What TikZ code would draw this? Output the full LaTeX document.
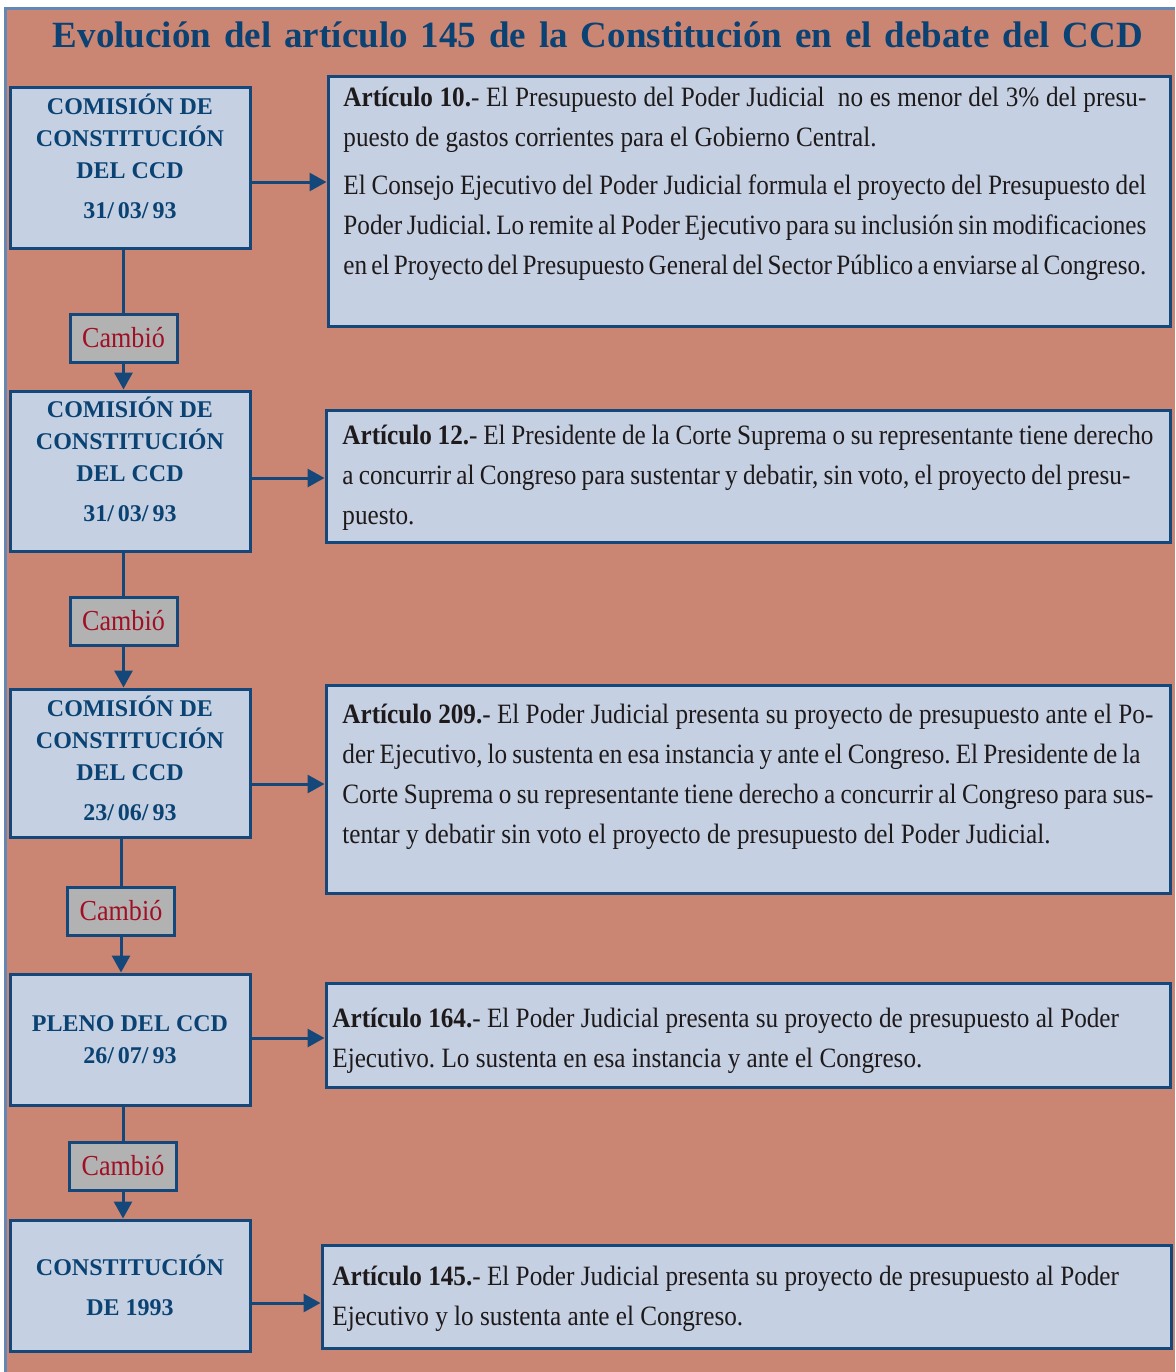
\documentclass[tikz,border=0pt]{standalone}
\usepackage{fontspec}
\setmainfont{Liberation Serif}
\newfontfamily\bodyfam{Liberation Serif}[FakeStretch=0.9]
\usepackage{tikz}
\usetikzlibrary{arrows.meta}
\definecolor{bgsalmon}{RGB}{203,133,115}
\definecolor{framesteel}{RGB}{100,135,180}
\definecolor{boxfill}{RGB}{197,208,226}
\definecolor{boxline}{RGB}{20,72,122}
\definecolor{cambiogray}{RGB}{178,178,178}
\definecolor{cambiored}{RGB}{160,15,35}
\definecolor{titleblue}{RGB}{10,67,115}
\definecolor{textdark}{RGB}{30,26,27}
\newcommand{\linew}{1.5pt}
\newcommand{\jl}[2]{\makebox[#1][s]{#2}}
\newcommand{\dep}[1]{\rule[-#1]{0pt}{#1}}
\frenchspacing

\begin{document}
\begin{tikzpicture}[x=0.5pt, y=-0.5pt,
  stage/.style={draw=boxline, fill=boxfill, line width=\linew, inner sep=0pt,
    minimum width=120pt, align=center, text=titleblue,
    font=\fontsize{12}{16}\selectfont\bfseries},
  change/.style={draw=boxline, fill=cambiogray, line width=\linew, inner sep=0pt,
    minimum width=53.5pt, minimum height=24pt, text=cambiored,
    font=\bodyfam\fontsize{14.5}{16}\selectfont},
  article/.style={draw=boxline, fill=boxfill, line width=\linew, inner sep=0pt},
  txt/.style={anchor=north west, inner sep=0pt, align=left, text=textdark,
    font=\bodyfam\fontsize{14}{20}\selectfont},
  link/.style={draw=boxline, line width=\linew},
  arr/.style={link, -{Triangle[width=9pt, length=8.5pt]}}]
\useasboundingbox (0,0) rectangle (1175,1372);
%frame
\fill[white] (0,0) rectangle (1175,1372);
\fill[bgsalmon] (5,8) rectangle (1175,1372);
\draw[framesteel, line width=\linew] (5,1372) -- (5,8) -- (1175,8);
%title
\node[anchor=base, inner sep=0pt, text=titleblue, font=\fontsize{18.5}{22}\selectfont\bfseries] (title) at (598, 47)
  {\makebox[545pt][s]{Evolución del artículo 145 de la Constitución en el debate del CCD}};
%left
\node[stage] (a1) at (130, 167.5) [minimum height=80.5pt] {COMISIÓN DE\\CONSTITUCIÓN\\DEL CCD\\[4pt]31/\,03/\,93\dep{11.5pt}};
\node[stage] (a2) at (130, 471) [minimum height=80pt] {COMISIÓN DE\\CONSTITUCIÓN\\DEL CCD\\[4pt]31/\,03/\,93\dep{12pt}};
\node[stage] (a3) at (130, 763) [minimum height=74pt] {COMISIÓN DE\\CONSTITUCIÓN\\DEL CCD\\[4pt]23/\,06/\,93\dep{5pt}};
\node[stage] (a4) at (130, 1039.5) [minimum height=65.5pt] {PLENO DEL CCD\\26/\,07/\,93};
\node[stage] (a5) at (130, 1285.5) [minimum height=65.5pt] {CONSTITUCIÓN\\[4pt]DE 1993};
%changes
\node[change] (c1) at (123.5, 338) {Cambió};
\node[change] (c2) at (123.5, 621) {Cambió};
\node[change] (c3) at (121, 911) {Cambió};
\node[change] (c4) at (123, 1166) {Cambió};
%right
\node[article] (b1) at (749, 201) [minimum width=421pt, minimum height=125pt] {};
\node[article] (b2) at (748, 476) [minimum width=422pt, minimum height=66pt] {};
\node[article] (b3) at (748, 789) [minimum width=422pt, minimum height=104pt] {};
\node[article] (b4) at (748, 1035) [minimum width=422pt, minimum height=52pt] {};
\node[article] (b5) at (746.5, 1296.5) [minimum width=424.5pt, minimum height=51.5pt] {};
%texts
\node[txt] (t1) at (343, 78) {\strut\jl{401.5pt}{\textbf{Artículo 10.}- El Presupuesto del Poder Judicial \ no es menor del 3\% del presu-}\\
puesto de gastos corrientes para el Gobierno Central.\\[4pt]
\jl{401.5pt}{El Consejo Ejecutivo del Poder Judicial formula el proyecto del Presupuesto del}\\
\jl{401.5pt}{Poder Judicial. Lo remite al Poder Ejecutivo para su inclusión sin modificaciones}\\
\jl{401.5pt}{en el Proyecto del Presupuesto General del Sector Público a enviarse al Congreso.}};
\node[txt] (t2) at (342, 416) {\strut\jl{405.5pt}{\textbf{Artículo 12.}- El Presidente de la Corte Suprema o su representante tiene derecho}\\
\jl{394pt}{a concurrir al Congreso para sustentar y debatir, sin voto, el proyecto del presu-}\\
puesto.};
\node[txt] (t3) at (342, 695) {\strut\jl{405.5pt}{\textbf{Artículo 209.}- El Poder Judicial presenta su proyecto de presupuesto ante el Po-}\\
\jl{399pt}{der Ejecutivo, lo sustenta en esa instancia y ante el Congreso. El Presidente de la}\\
\jl{405.5pt}{Corte Suprema o su representante tiene derecho a concurrir al Congreso para sus-}\\
tentar y debatir sin voto el proyecto de presupuesto del Poder Judicial.};
\node[txt] (t4) at (332, 999) {\strut\textbf{Artículo 164.}- El Poder Judicial presenta su proyecto de presupuesto al Poder\\
Ejecutivo. Lo sustenta en esa instancia y ante el Congreso.};
\node[txt] (t5) at (332, 1257) {\strut\textbf{Artículo 145.}- El Poder Judicial presenta su proyecto de presupuesto al Poder\\
Ejecutivo y lo sustenta ante el Congreso.};
%down
\draw[link] (c1.north |- a1.south) -- (c1.north);
\draw[arr] (c1.south) -- (c1.south |- a2.north);
\draw[link] (c2.north |- a2.south) -- (c2.north);
\draw[arr] (c2.south) -- (c2.south |- a3.north);
\draw[link] (c3.north |- a3.south) -- (c3.north);
\draw[arr] (c3.south) -- (c3.south |- a4.north);
\draw[link] (c4.north |- a4.south) -- (c4.north);
\draw[arr] (c4.south) -- (c4.south |- a5.north);
%across
\draw[arr] ([yshift=-7.25pt]a1.east) -- ([yshift=-7.25pt]a1.east -| b1.west);
\draw[arr] ([yshift=-3.5pt]a2.east) -- ([yshift=-3.5pt]a2.east -| b2.west);
\draw[arr] ([yshift=-10.5pt]a3.east) -- ([yshift=-10.5pt]a3.east -| b3.west);
\draw[arr] ([yshift=0.75pt]a4.east) -- ([yshift=0.75pt]a4.east -| b4.west);
\draw[arr] ([yshift=-8.75pt]a5.east) -- ([yshift=-8.75pt]a5.east -| b5.west);
\end{tikzpicture}
\end{document}
